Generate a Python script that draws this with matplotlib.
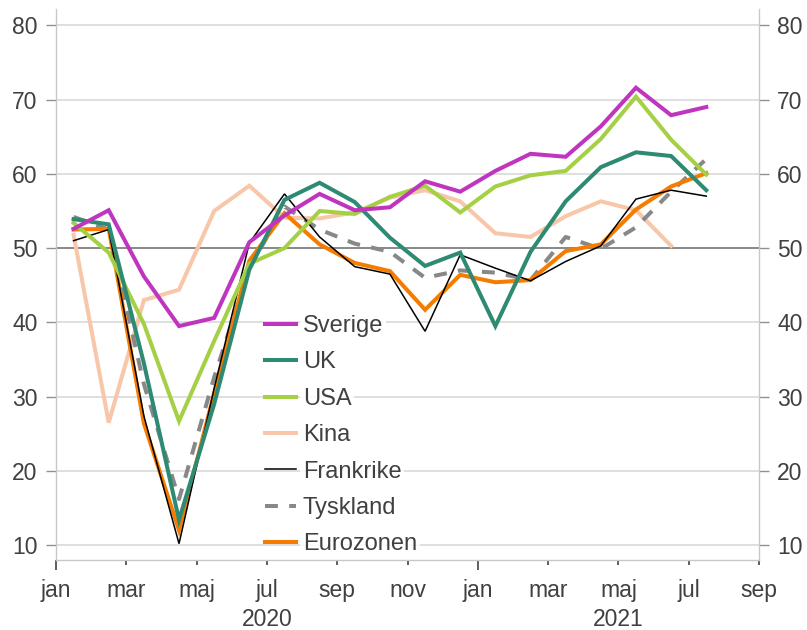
import matplotlib
matplotlib.use("Agg")
import matplotlib.pyplot as plt
import numpy as np

plt.rcParams['font.family'] = ['Liberation Sans', 'DejaVu Sans']

# Monthly data, Jan 2020 .. Jul 2021
sverige = [52.6, 55.1, 46.2, 39.5, 40.6, 50.8, 54.4, 57.3, 55.1, 55.5, 59.0, 57.6,
           60.4, 62.7, 62.3, 66.4, 71.6, 67.9, 69.0]
uk = [53.9, 53.2, 34.5, 13.4, 29.0, 47.1, 56.5, 58.8, 56.2, 51.4, 47.6, 49.4,
      39.5, 49.5, 56.3, 60.9, 62.9, 62.4, 57.8]
usa = [53.4, 49.4, 39.8, 26.7, 37.5, 47.9, 50.0, 55.0, 54.6, 56.9, 58.4, 54.8,
       58.3, 59.8, 60.4, 64.7, 70.4, 64.6, 59.9]
kina = [51.8, 26.5, 43.0, 44.4, 55.0, 58.4, 54.1, 54.0, 54.8, 56.8, 57.8, 56.3,
        52.0, 51.5, 54.3, 56.3, 55.1, 50.3]
frankrike = [51.0, 52.5, 27.4, 10.2, 31.1, 50.7, 57.3, 51.5, 47.5, 46.5, 38.8, 49.1,
             47.3, 45.6, 48.2, 50.3, 56.6, 57.8, 57.0]
tyskland = [54.2, 52.5, 31.7, 16.2, 32.6, 47.3, 55.6, 52.5, 50.6, 49.5, 46.0, 47.0,
            46.7, 45.7, 51.5, 49.9, 52.8, 57.6, 62.0]
eurozonen = [52.5, 52.6, 26.4, 12.0, 30.5, 48.3, 54.7, 50.5, 48.0, 46.9, 41.7, 46.4,
             45.4, 45.7, 49.6, 50.5, 55.2, 58.3, 60.1]

month_labels = ['jan', 'mar', 'maj', 'jul', 'sep', 'nov', 'jan', 'mar', 'maj', 'jul', 'sep']
years = ['2020', '2021']
y_ticks = [10, 20, 30, 40, 50, 60, 70, 80]

W, H = 807, 630
fig = plt.figure(figsize=(W / 100, H / 100), dpi=100)
L, R, T, B = 56, 759, 9, 560
ax = fig.add_axes([L / W, 1 - B / H, (R - L) / W, (B - T) / H])

def xs(n):
    return np.arange(n) + 0.5

series = [
    ('Kina', kina, dict(color='#F8C6A8', lw=2.9), 2),
    ('Tyskland', tyskland, dict(color='#888888', lw=2.9, linestyle=(0, (3.2, 2.8))), 3),
    ('Eurozonen', eurozonen, dict(color='#F57C00', lw=2.9), 4),
    ('Frankrike', frankrike, dict(color='black', lw=1.1), 5),
    ('USA', usa, dict(color='#A5D046', lw=2.9), 6),
    ('UK', uk, dict(color='#2F8A73', lw=2.9), 7),
    ('Sverige', sverige, dict(color='#BF35BF', lw=2.9), 8),
]
handles = {}
for name, vals, kw, z in series:
    ln, = ax.plot(xs(len(vals)), vals, zorder=z, solid_joinstyle='miter', **kw)
    handles[name] = ln

ax.set_xlim(0, 20)
ax.set_ylim(8, 82.2)

for y in y_ticks:
    if y == 50:
        ax.axhline(y, color='#7f7f7f', lw=1.3, zorder=1)
    else:
        ax.axhline(y, color='#d9d9d9', lw=1.2, zorder=1)

for s in ['left', 'right', 'bottom']:
    ax.spines[s].set_color('#c8c8c8')
    ax.spines[s].set_linewidth(1.0)
ax.spines['top'].set_visible(False)

ax.set_yticks(y_ticks)
ax.tick_params(axis='y', which='both', left=True, right=True, labelleft=True, labelright=True,
               length=7.2, width=1, color='#909090', pad=6, labelsize=16.5, labelcolor='#404040')
ax.set_xticks(np.arange(0, 21, 2))
ax.set_xticklabels(month_labels)
ax.tick_params(axis='x', length=3.6, width=1.3, color='#505050', pad=10,
               labelsize=16.5, labelcolor='#404040')
for i in (0, 6):
    ax.xaxis.get_major_ticks()[i].tick1line.set_markersize(7.5)

# year labels
fig.text((L + 6 * 35.15) / W, 1 - 620 / H, years[0], ha='center', va='center',
         fontsize=16.5, color='#404040')
fig.text((L + 16 * 35.15) / W, 1 - 620 / H, years[1], ha='center', va='center',
         fontsize=16.5, color='#404040')

order = ['Sverige', 'UK', 'USA', 'Kina', 'Frankrike', 'Tyskland', 'Eurozonen']
leg = ax.legend([handles[n] for n in order], order, loc='upper left',
                bbox_to_anchor=(265 / W, 1 - 315 / H), bbox_transform=fig.transFigure,
                frameon=False, fontsize=17, handlelength=1.3, handletextpad=0.3,
                labelspacing=0.61, borderpad=0, borderaxespad=0)
for t in leg.get_texts():
    t.set_color('#404040')
    t.set_bbox(dict(facecolor='white', edgecolor='none', alpha=0.85, pad=2))
leg.set_zorder(20)

fig.savefig('out.png', dpi=100)
